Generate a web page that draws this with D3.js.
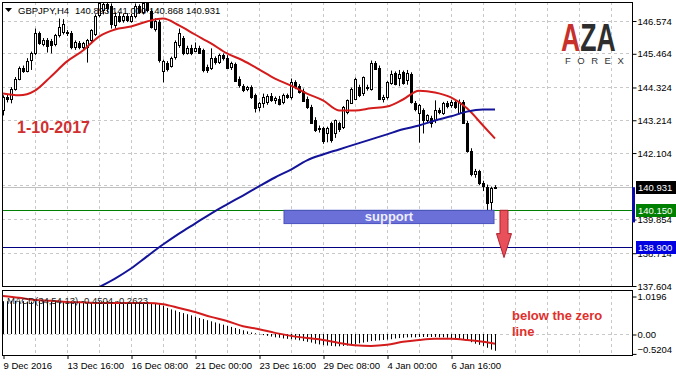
<!DOCTYPE html>
<html>
<head>
<meta charset="utf-8">
<script src="https://cdn.jsdelivr.net/npm/d3@7"></script>
<style>
    body { margin: 0; background: #fff; }
    text { font-family: "Liberation Sans", Arial, sans-serif; }
</style>
</head>
<body>
<div id="chart"></div>
<script>
// ---- data ----
const symbol = "GBPJPY,H4";
const lastQuote = [140.893, 141.000, 140.868, 140.931];

// H4 candles: [open, high, low, close]
const ohlc = [
    [143.53,144.04,143.36,143.97],[143.97,144.08,143.80,143.90],[143.92,144.32,143.77,144.27],[144.27,144.66,144.20,144.61],
    [144.61,145.02,144.55,144.98],[144.98,145.05,144.80,144.88],[144.88,145.30,144.82,145.22],[145.22,145.52,144.90,145.46],
    [145.46,146.30,145.40,146.14],[146.14,146.20,145.75,145.80],[145.80,145.98,145.70,145.92],[145.92,145.98,145.49,145.73],
    [145.88,145.95,145.46,145.73],[145.76,146.12,145.70,146.07],[146.07,146.64,146.00,146.34],[146.20,146.62,146.10,146.47],
    [146.17,146.25,146.05,146.14],[146.15,146.22,145.60,145.66],[145.66,145.90,145.58,145.83],[145.80,145.88,145.60,145.66],
    [145.66,145.85,145.55,145.80],[145.66,145.95,145.15,145.90],[145.90,146.28,145.85,146.24],[146.14,146.78,146.05,146.74],
    [146.74,147.18,146.68,147.15],[146.91,147.18,146.78,147.12],[147.12,147.17,146.85,146.98],[147.05,147.15,146.30,146.44],
    [146.44,146.85,146.30,146.74],[146.74,146.85,146.50,146.57],[146.57,146.80,146.50,146.71],[146.71,146.82,146.52,146.57],
    [146.57,146.80,146.50,146.74],[146.71,147.15,146.65,147.05],[147.05,147.12,146.80,146.85],[146.85,147.18,146.78,147.16],
    [147.15,147.18,146.85,146.91],[146.88,146.95,146.30,146.34],[146.30,146.65,146.20,146.57],[146.51,146.60,145.15,145.22],
    [144.88,145.25,144.48,145.22],[145.15,145.20,144.85,144.95],[145.05,145.35,144.98,145.32],[145.32,145.90,145.25,145.83],
    [145.73,146.30,145.65,146.14],[145.97,146.05,145.40,145.46],[145.49,145.72,145.42,145.66],[145.66,145.75,145.40,145.49],
    [145.56,145.83,145.50,145.66],[145.66,145.72,145.45,145.49],[145.56,145.62,144.82,144.88],[145.00,145.08,144.80,144.90],
    [144.95,145.63,144.90,145.29],[145.29,145.36,145.08,145.15],[145.15,145.45,145.10,145.39],[145.39,145.46,145.22,145.30],
    [145.32,145.40,144.95,144.98],[144.98,145.18,144.90,145.12],[145.10,145.15,144.50,144.54],[144.61,144.68,144.30,144.40],
    [144.35,144.42,144.15,144.22],[144.25,144.36,144.18,144.31],[144.31,144.38,143.92,143.97],[144.04,144.10,143.46,143.60],
    [143.63,143.82,143.50,143.77],[143.77,144.10,143.62,143.97],[143.80,144.08,143.72,144.02],[144.02,144.12,143.82,143.88],
    [143.88,144.00,143.75,143.95],[143.93,144.02,143.70,143.77],[143.80,144.10,143.74,144.04],[144.04,144.10,143.92,143.97],
    [143.97,144.61,143.90,144.48],[144.48,144.55,144.25,144.31],[144.35,144.42,144.10,144.14],[144.20,144.27,143.83,143.87],
    [143.90,144.00,143.58,143.63],[143.65,143.72,143.08,143.12],[143.20,143.30,142.80,142.85],[142.90,143.02,142.78,142.95],
    [142.95,142.98,142.40,142.51],[142.78,142.98,142.45,142.95],[143.09,143.15,142.44,142.51],[142.75,143.22,142.60,143.19],
    [143.10,143.15,142.80,142.88],[142.95,143.68,142.90,143.63],[143.46,143.90,143.40,143.87],[143.80,144.30,143.75,144.27],
    [143.93,144.64,143.90,144.61],[144.31,144.40,143.98,144.04],[144.10,144.68,144.02,144.65],[144.31,144.40,144.20,144.27],
    [144.27,145.22,144.20,145.15],[145.15,145.20,144.90,144.95],[144.98,145.05,143.88,143.93],[143.93,144.06,143.80,144.00],
    [143.97,144.52,143.90,144.48],[144.48,144.88,144.40,144.78],[144.80,144.85,144.38,144.44],[144.60,144.90,144.35,144.75],
    [144.82,144.88,144.40,144.44],[144.55,144.90,144.40,144.80],[144.75,144.82,143.76,143.80],[143.77,143.85,143.50,143.55],
    [143.43,143.75,142.44,143.70],[143.53,143.60,142.75,143.19],[143.19,143.40,143.10,143.36],[143.29,143.35,142.95,143.12],
    [143.19,143.87,143.10,143.53],[143.53,143.62,143.40,143.46],[143.43,143.82,143.38,143.77],[143.77,143.85,143.60,143.66],
    [143.70,143.88,143.62,143.80],[143.80,143.86,143.58,143.63],[143.46,143.90,143.40,143.83],[143.83,143.88,143.10,143.12],
    [143.12,143.18,142.10,142.17],[142.17,142.25,141.30,141.39],[141.39,141.55,141.25,141.48],[141.48,141.52,141.00,141.06],
    [141.06,141.15,140.80,140.95],[140.95,141.02,140.14,140.41],[140.41,140.95,140.15,140.89],[140.893,141.000,140.868,140.931]
];

// moving averages, read every 4th bar
const maIdx = [0,4,8,12,16,20,24,28,32,36,40,44,48,52,56,60,64,68,72,76,80,84,88,92,96,100,104,108,112,116,120,123];
const redMA = [144.10,144.04,144.20,144.68,145.19,145.56,146.03,146.27,146.37,146.54,146.64,146.41,146.10,145.80,145.46,145.22,
               144.92,144.61,144.37,144.10,143.87,143.53,143.53,143.60,143.66,143.90,144.20,144.14,143.97,143.60,143.02,142.58];
const blueIdx = [24,28,32,36,40,44,48,52,56,60,64,68,72,76,80,84,88,92,96,100,104,108,112,116,120,123];
const blueMA = [137.55,137.84,138.18,138.59,138.99,139.36,139.70,140.04,140.35,140.65,140.96,141.26,141.53,
                141.84,142.04,142.21,142.38,142.55,142.72,142.89,143.02,143.19,143.33,143.49,143.56,143.56];

// MACD(34,54,13)
const macdHist = [
    0.88,0.88,0.89,0.89,0.88,0.88,0.87,0.87,0.88,0.89,0.89,0.88,0.88,0.87,0.87,0.88,0.88,0.88,0.87,0.87,
    0.86,0.86,0.86,0.87,0.88,0.88,0.88,0.87,0.87,0.86,0.86,0.86,0.86,0.85,0.85,0.85,0.84,0.83,0.82,0.80,
    0.76,0.70,0.66,0.63,0.59,0.56,0.53,0.50,0.46,0.43,0.40,0.37,0.34,0.31,0.28,0.25,0.22,0.19,0.16,0.13,
    0.10,0.07,0.04,0.02,-0.01,-0.03,-0.05,-0.07,-0.09,-0.10,-0.12,-0.13,-0.14,-0.15,-0.17,-0.19,-0.21,-0.23,-0.26,-0.28,
    -0.30,-0.31,-0.32,-0.33,-0.33,-0.32,-0.31,-0.29,-0.27,-0.25,-0.23,-0.21,-0.19,-0.18,-0.17,-0.16,-0.15,-0.14,-0.12,-0.11,
    -0.10,-0.09,-0.09,-0.09,-0.08,-0.08,-0.08,-0.08,-0.08,-0.09,-0.09,-0.10,-0.11,-0.12,-0.13,-0.15,-0.18,-0.22,-0.26,-0.29,
    -0.32,-0.37,-0.42,-0.4504
];
const macdSignal = [1.02,0.97,0.91,0.89,0.86,0.85,0.83,0.83,0.83,0.83,0.80,0.70,0.59,0.46,0.35,0.21,
                    0.13,0.03,-0.05,-0.11,-0.16,-0.24,-0.30,-0.32,-0.29,-0.21,-0.16,-0.13,-0.13,-0.16,-0.21,-0.2623];

const priceTicks = [137.604,138.714,139.854,142.104,143.214,144.324,145.464,146.574];
const macdTicks = [1.0196, 0, -0.5204];
const timeTickIdx = [0,16,32,48,64,80,96,112];
const timeLabels = ["9 Dec 2016","13 Dec 16:00","16 Dec 08:00","21 Dec 00:00","23 Dec 16:00","29 Dec 08:00","4 Jan 00:00","6 Jan 16:00"];

const lastPrice = 140.931;
const supportLevel = 140.150;
const targetLevel = 138.900;

class CandleChart {
    constructor(parentElement) {
        this.parentElement = parentElement;
        this.initVis();
    }

    initVis() {
        let vis = this;
        vis.width = 676;
        vis.height = 377;
        vis.left = 2; vis.right = 632;
        vis.mainTop = 2; vis.mainBottom = 287;
        vis.macdTop = 290; vis.macdBottom = 356;

        vis.svg = d3.select("#" + vis.parentElement).append("svg")
            .attr("width", vis.width)
            .attr("height", vis.height)
            .style("display", "block");

        let defs = vis.svg.append("defs");
        defs.append("clipPath").attr("id", "clipMain").append("rect")
            .attr("x", vis.left).attr("y", vis.mainTop)
            .attr("width", vis.right - vis.left).attr("height", vis.mainBottom - vis.mainTop);
        defs.append("clipPath").attr("id", "clipMacd").append("rect")
            .attr("x", vis.left).attr("y", vis.macdTop)
            .attr("width", vis.right - vis.left).attr("height", vis.macdBottom - vis.macdTop);

        // bar index -> pixel
        vis.x = d3.scaleLinear().domain([0, 123]).range([3, 495]);
        vis.y = d3.scaleLinear().domain([137.604, 146.574]).range([285.5, 20.5]);
        vis.ym = d3.scaleLinear().domain([0, 1.0196]).range([334, 296]);

        vis.drawGrid();
        vis.drawMain();
        vis.drawMacd();
        vis.drawAxes();
        vis.drawNotes();
    }

    drawGrid() {
        let vis = this;
        let g = vis.svg.append("g").attr("class", "grid");
        let vIdx = d3.range(8, 160, 8).filter(i => vis.x(i) < vis.right);

        [[vis.mainTop, vis.mainBottom], [vis.macdTop, vis.macdBottom]].forEach(([t, b]) => {
            g.selectAll(null).data(vIdx).enter().append("line")
                .attr("x1", d => Math.round(vis.x(d)) + 0.5).attr("x2", d => Math.round(vis.x(d)) + 0.5)
                .attr("y1", t).attr("y2", b)
                .attr("stroke", "#c8c8c8").attr("stroke-dasharray", "3,3");
        });

        // price grid, including the level hidden under the last-price tag
        g.selectAll(null).data(priceTicks.concat([140.994])).enter().append("line")
            .attr("x1", vis.left).attr("x2", vis.right)
            .attr("y1", d => Math.round(vis.y(d)) + 0.5).attr("y2", d => Math.round(vis.y(d)) + 0.5)
            .attr("stroke", "#c8c8c8").attr("stroke-dasharray", "3,3");

        g.append("line")
            .attr("x1", vis.left).attr("x2", vis.right)
            .attr("y1", Math.round(vis.ym(0)) + 0.5).attr("y2", Math.round(vis.ym(0)) + 0.5)
            .attr("stroke", "#c8c8c8").attr("stroke-dasharray", "3,3");
    }

    drawMain() {
        let vis = this;
        let g = vis.svg.append("g").attr("clip-path", "url(#clipMain)");

        // price level lines
        let hline = (v, col) => g.append("line")
            .attr("x1", vis.left).attr("x2", vis.right)
            .attr("y1", Math.round(vis.y(v)) + 0.5).attr("y2", Math.round(vis.y(v)) + 0.5)
            .attr("stroke", col);
        hline(lastPrice, "#c0c0c0");
        hline(supportLevel, "#008000");
        hline(targetLevel, "#000080");

        // candles
        let px = i => Math.round(vis.x(i));
        let candles = g.selectAll(".candle").data(ohlc).enter().append("g").attr("class", "candle");
        candles.append("line")
            .attr("x1", (d, i) => px(i) + 0.5).attr("x2", (d, i) => px(i) + 0.5)
            .attr("y1", d => vis.y(d[1])).attr("y2", d => vis.y(d[2]))
            .attr("stroke", "#000");
        candles.append("rect")
            .attr("x", (d, i) => px(i) - 0.5)
            .attr("width", 2)
            .attr("y", d => Math.round(vis.y(Math.max(d[0], d[3]))) + 0.5)
            .attr("height", d => Math.max(0.5, Math.round(Math.abs(vis.y(d[0]) - vis.y(d[3])))))
            .attr("fill", d => d[3] >= d[0] ? "#fff" : "#000")
            .attr("stroke", "#000");

        // moving averages
        let line = d3.line().curve(d3.curveMonotoneX).x(d => vis.x(d[0])).y(d => vis.y(d[1]));
        g.append("path").datum(maIdx.map((d, i) => [d, redMA[i]]))
            .attr("d", line).attr("fill", "none").attr("stroke", "#d41c1c").attr("stroke-width", 2);
        g.append("path").datum(blueIdx.map((d, i) => [d, blueMA[i]]))
            .attr("d", line).attr("fill", "none").attr("stroke", "#14149a").attr("stroke-width", 2);

        // support zone
        g.append("rect")
            .attr("x", vis.x(70.25)).attr("width", vis.x(122.75) - vis.x(70.25))
            .attr("y", vis.y(supportLevel)).attr("height", vis.y(139.70) - vis.y(supportLevel))
            .attr("fill", "#6a70d8").attr("stroke", "#4a50c0");
        g.append("text")
            .attr("x", (vis.x(70.25) + vis.x(122.75)) / 2).attr("y", vis.y(139.70) - 2.5)
            .attr("text-anchor", "middle").attr("font-size", 13).attr("font-weight", "bold")
            .attr("fill", "#eef").text("support");

        // down arrow
        let cx = vis.x(125.25), top = vis.y(supportLevel), neck = vis.y(139.36), tip = vis.y(138.55);
        g.append("path")
            .attr("d", `M${cx - 4},${top} L${cx + 4},${top} L${cx + 4},${neck} L${cx + 7.5},${neck} L${cx},${tip} L${cx - 7.5},${neck} L${cx - 4},${neck} Z`)
            .attr("fill", "#e8505a").attr("stroke", "#b02030");

        // frame
        vis.svg.append("rect")
            .attr("x", vis.left + 0.5).attr("y", vis.mainTop + 0.5)
            .attr("width", vis.right - vis.left).attr("height", vis.mainBottom - vis.mainTop - 1)
            .attr("fill", "none").attr("stroke", "#000");
    }

    drawMacd() {
        let vis = this;
        let g = vis.svg.append("g").attr("clip-path", "url(#clipMacd)");

        g.selectAll(".hist").data(macdHist).enter().append("line")
            .attr("class", "hist")
            .attr("x1", (d, i) => Math.round(vis.x(i)) + 0.5).attr("x2", (d, i) => Math.round(vis.x(i)) + 0.5)
            .attr("y1", vis.ym(0)).attr("y2", d => vis.ym(d))
            .attr("stroke", "#000");

        let line = d3.line().curve(d3.curveMonotoneX).x(d => vis.x(d[0])).y(d => vis.ym(d[1]));
        g.append("path").datum(maIdx.map((d, i) => [d, macdSignal[i]]))
            .attr("d", line).attr("fill", "none").attr("stroke", "#d41c1c").attr("stroke-width", 2);

        vis.svg.append("text")
            .attr("x", 7).attr("y", 303.5).attr("font-size", 9.5).attr("fill", "#222")
            .text("MACD(34,54,13) -0.4504 -0.2623");

        vis.svg.append("rect")
            .attr("x", vis.left + 0.5).attr("y", vis.macdTop + 0.5)
            .attr("width", vis.right - vis.left).attr("height", vis.macdBottom - vis.macdTop - 1)
            .attr("fill", "none").attr("stroke", "#000");
    }

    drawAxes() {
        let vis = this;

        let pAxis = d3.axisRight(vis.y).tickValues(priceTicks).tickFormat(d3.format(".3f")).tickSize(4);
        let pg = vis.svg.append("g").attr("transform", `translate(${vis.right + 0.5},0.5)`).call(pAxis);
        pg.select(".domain").remove();
        pg.selectAll("text").attr("x", 5).attr("font-size", 9.5).attr("fill", "#000");

        let mAxis = d3.axisRight(vis.ym).tickValues(macdTicks)
            .tickFormat(d => d === 0 ? "0.00" : d3.format(".4f")(d)).tickSize(4);
        let mg = vis.svg.append("g").attr("transform", `translate(${vis.right + 0.5},0.5)`).call(mAxis);
        mg.select(".domain").remove();
        mg.selectAll("text").attr("x", 5).attr("font-size", 9.5).attr("fill", "#000")
            .attr("dy", d => d < 0 ? "-0.1em" : "0.32em");

        let tAxis = d3.axisBottom(vis.x).tickValues(timeTickIdx).tickFormat((d, i) => timeLabels[i]).tickSize(3);
        let tg = vis.svg.append("g").attr("transform", `translate(0.5,${vis.macdBottom})`).call(tAxis);
        tg.select(".domain").remove();
        tg.selectAll("text").attr("text-anchor", "start").attr("x", -0.5).attr("y", 13).attr("dy", null)
            .attr("font-size", 9.5).attr("fill", "#000");

        // price tags on the scale
        let tag = (v, bg) => {
            let yy = Math.round(vis.y(v));
            vis.svg.append("rect").attr("x", 636).attr("y", yy - 6).attr("width", 40).attr("height", 13).attr("fill", bg);
            vis.svg.append("text").attr("x", 638).attr("y", yy + 4).attr("font-size", 9.5).attr("fill", "#fff")
                .text(d3.format(".3f")(v));
        };
        tag(lastPrice, "#000");
        tag(supportLevel, "#008000");
        tag(targetLevel, "#0000e0");

        vis.svg.append("rect")
            .attr("x", 632).attr("width", 3)
            .attr("y", vis.y(lastPrice)).attr("height", vis.y(139.74) - vis.y(lastPrice))
            .attr("fill", "#0a0aa8");
    }

    drawNotes() {
        let vis = this;

        // header
        vis.svg.append("path").attr("d", "M5,8 L12,8 L8.5,12 Z").attr("fill", "#000");
        vis.svg.append("text").attr("x", 18).attr("y", 14).attr("font-size", 9.5).attr("fill", "#000").text(symbol);
        vis.svg.append("text").attr("x", 75).attr("y", 14).attr("font-size", 9.5).attr("fill", "#000")
            .text(lastQuote.map(d3.format(".3f")).join(" "));

        vis.svg.append("text").attr("x", 17).attr("y", 133)
            .attr("font-size", 16).attr("font-weight", "bold").attr("fill", "#d03030")
            .text("1-10-2017");

        vis.svg.append("text").attr("x", 512).attr("y", 320)
            .attr("font-size", 13).attr("font-weight", "bold").attr("fill", "#e0302c")
            .text("below the zero");
        vis.svg.append("text").attr("x", 512).attr("y", 336)
            .attr("font-size", 13).attr("font-weight", "bold").attr("fill", "#e0302c")
            .text("line");

        // logo
        let logo = vis.svg.append("text").attr("transform", "translate(561,51) scale(0.7,1)")
            .attr("font-size", 38).attr("font-weight", "bold");
        logo.append("tspan").attr("fill", "#c8302c").text("A");
        logo.append("tspan").attr("fill", "#2e2e2e").text("Z");
        logo.append("tspan").attr("fill", "#2e2e2e").text("A");
        vis.svg.append("text").attr("x", 565).attr("y", 64).attr("font-size", 9.5)
            .attr("letter-spacing", 6.5).attr("fill", "#333").text("FOREX");
    }
}

new CandleChart("chart");
</script>
</body>
</html>
